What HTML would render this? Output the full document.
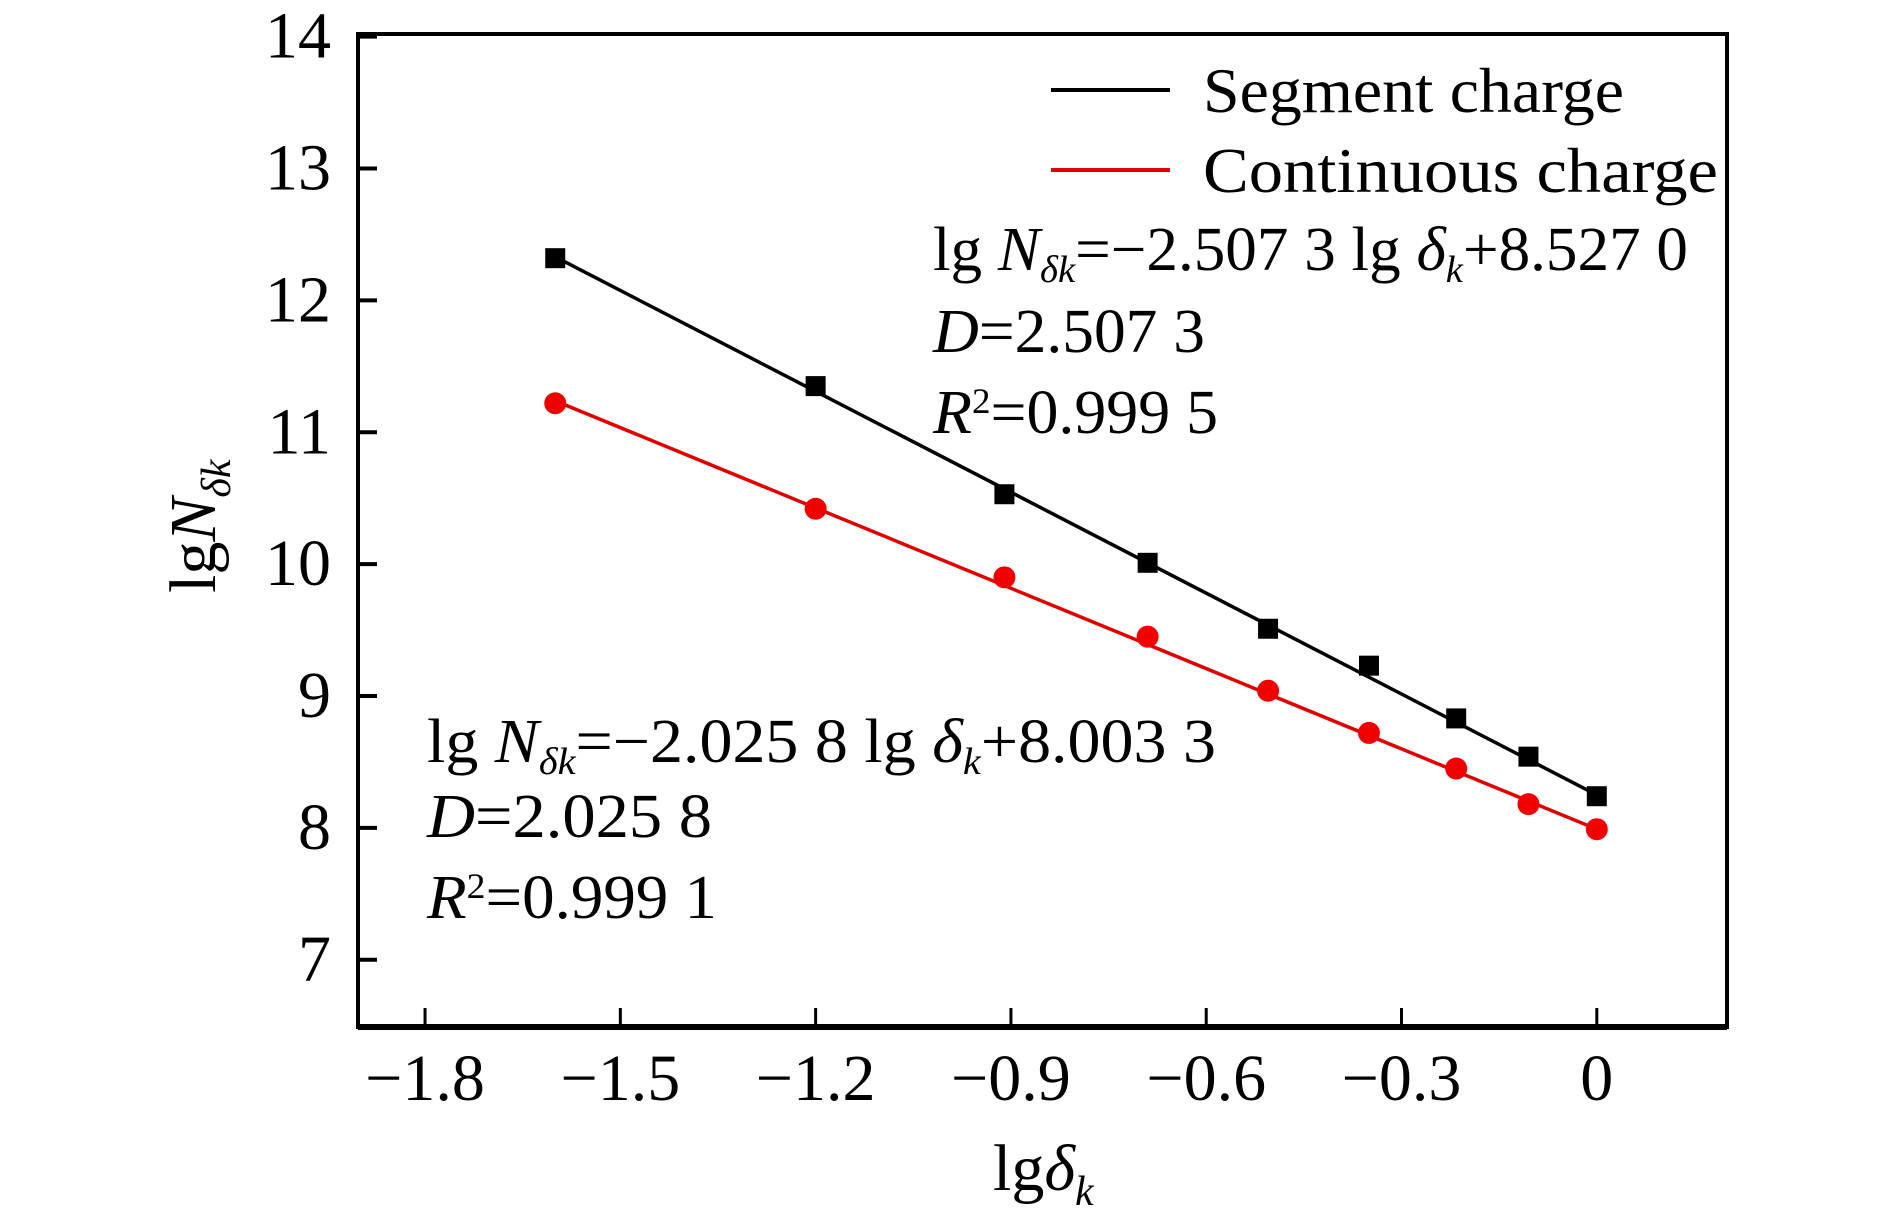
<!DOCTYPE html>
<html><head><meta charset="utf-8"><style>
html,body{margin:0;padding:0;background:#fff;}
svg{display:block;font-family:"Liberation Serif",serif;}
</style></head><body>
<svg id="chart" width="1890" height="1226" viewBox="0 0 1890 1226">
  <g id="plot"></g>
  <g>
    <line x1="1051" y1="90" x2="1170" y2="90" stroke="#000" stroke-width="4"/>
    <text x="1203" y="112" font-size="64" textLength="421" lengthAdjust="spacingAndGlyphs">Segment charge</text>
    <line x1="1051" y1="170" x2="1170" y2="170" stroke="#e00000" stroke-width="4"/>
    <text x="1203" y="192" font-size="64" textLength="515" lengthAdjust="spacingAndGlyphs">Continuous charge</text>
  </g>
  <g font-size="62">
    <text x="933" y="270" textLength="755" lengthAdjust="spacingAndGlyphs">lg <tspan font-style="italic">N</tspan><tspan font-style="italic" font-size="38" dy="12">δk</tspan><tspan dy="-12">=−2.507 3 lg </tspan><tspan font-style="italic">δ</tspan><tspan font-style="italic" font-size="38" dy="12">k</tspan><tspan dy="-12">+8.527 0</tspan></text>
    <text x="933" y="352" textLength="272" lengthAdjust="spacingAndGlyphs"><tspan font-style="italic">D</tspan>=2.507 3</text>
    <text x="933" y="433" textLength="285" lengthAdjust="spacingAndGlyphs"><tspan font-style="italic">R</tspan><tspan font-size="36" dy="-20">2</tspan><tspan dy="20">=0.999 5</tspan></text>
  </g>
  <g font-size="62">
    <text x="427" y="762" textLength="789" lengthAdjust="spacingAndGlyphs">lg <tspan font-style="italic">N</tspan><tspan font-style="italic" font-size="38" dy="12">δk</tspan><tspan dy="-12">=−2.025 8 lg </tspan><tspan font-style="italic">δ</tspan><tspan font-style="italic" font-size="38" dy="12">k</tspan><tspan dy="-12">+8.003 3</tspan></text>
    <text x="427" y="837" textLength="285" lengthAdjust="spacingAndGlyphs"><tspan font-style="italic">D</tspan>=2.025 8</text>
    <text x="427" y="918" textLength="290" lengthAdjust="spacingAndGlyphs"><tspan font-style="italic">R</tspan><tspan font-size="36" dy="-20">2</tspan><tspan dy="20">=0.999 1</tspan></text>
  </g>
  <text x="993" y="1190" font-size="66">lg<tspan font-style="italic">δ</tspan><tspan font-style="italic" font-size="42" dy="15">k</tspan></text>
  <text transform="translate(215,593) rotate(-90)" font-size="66">lg<tspan font-style="italic">N</tspan><tspan font-style="italic" font-size="42" dy="15">δk</tspan></text>
</svg>
<script>
const xTicks = [-1.8, -1.5, -1.2, -0.9, -0.6, -0.3, 0];
const xTickLabels = ["−1.8", "−1.5", "−1.2", "−0.9", "−0.6", "−0.3", "0"];
const yTicks = [7, 8, 9, 10, 11, 12, 13, 14];
const yTickLabels = ["7", "8", "9", "10", "11", "12", "13", "14"];
const xValues = [-1.6, -1.2, -0.91, -0.69, -0.505, -0.35, -0.216, -0.105, 0];
const segmentValues = [12.32, 11.35, 10.53, 10.01, 9.51, 9.23, 8.83, 8.54, 8.24];
const continuousValues = [11.22, 10.42, 9.90, 9.45, 9.04, 8.72, 8.45, 8.18, 7.99];
const segmentFit = [-2.55, 8.25];
const continuousFit = [-2.03, 7.99];

const NS = "http://www.w3.org/2000/svg";
const X0 = 358, X1 = 1727, Y0 = 34, Y1 = 1027;
const xMin = -1.903, xMax = 0.2, yMin = 6.49, yMax = 14.02;
const sx = v => X0 + (v - xMin) / (xMax - xMin) * (X1 - X0);
const sy = v => Y1 - (v - yMin) / (yMax - yMin) * (Y1 - Y0);
const plot = document.getElementById("plot");
function mk(tag, attrs) {
  const e = document.createElementNS(NS, tag);
  for (const k in attrs) e.setAttribute(k, attrs[k]);
  plot.appendChild(e);
  return e;
}
let el = mk("rect", {x: X0, y: Y0, width: X1 - X0, height: Y1 - Y0, fill: "none", stroke: "#000", "stroke-width": 4});


let bx = mk("line", {x1: X0, y1: Y1, x2: X1, y2: Y1, stroke: "#000", "stroke-width": 6});


xTicks.forEach((t, i) => {
  const x = sx(t);
  let tk = mk("line", {x1: x, y1: Y1, x2: x, y2: Y1 - 19, stroke: "#000", "stroke-width": 3});
  
  
  let lb = mk("text", {x: x, y: 1100, "font-size": 66, "text-anchor": "middle"});
  lb.textContent = xTickLabels[i];
  
  
});
yTicks.forEach((t, i) => {
  const y = sy(t);
  let tk = mk("line", {x1: X0, y1: y, x2: X0 + 19, y2: y, stroke: "#000", "stroke-width": 4});
  
  
  let lb = mk("text", {x: 331, y: y + 21, "font-size": 66, "text-anchor": "end"});
  lb.textContent = yTickLabels[i];
  
  
});
function fitLine(fit, color, name) {
  const xa = xValues[0], xb = xValues[xValues.length - 1];
  let l = mk("line", {x1: sx(xa), y1: sy(fit[0] * xa + fit[1]), x2: sx(xb), y2: sy(fit[0] * xb + fit[1]), stroke: color, "stroke-width": 3.5});
  
  
}
fitLine(segmentFit, "#000", "fit-line-segment");
fitLine(continuousFit, "#e00000", "fit-line-continuous");
xValues.forEach((xv, i) => {
  let s = mk("rect", {x: sx(xv) - 10, y: sy(segmentValues[i]) - 10, width: 20, height: 20, fill: "#000"});
  
  
  let c = mk("circle", {cx: sx(xv), cy: sy(continuousValues[i]), r: 11, fill: "#f20000"});
  
  
});
</script>
</body></html>
